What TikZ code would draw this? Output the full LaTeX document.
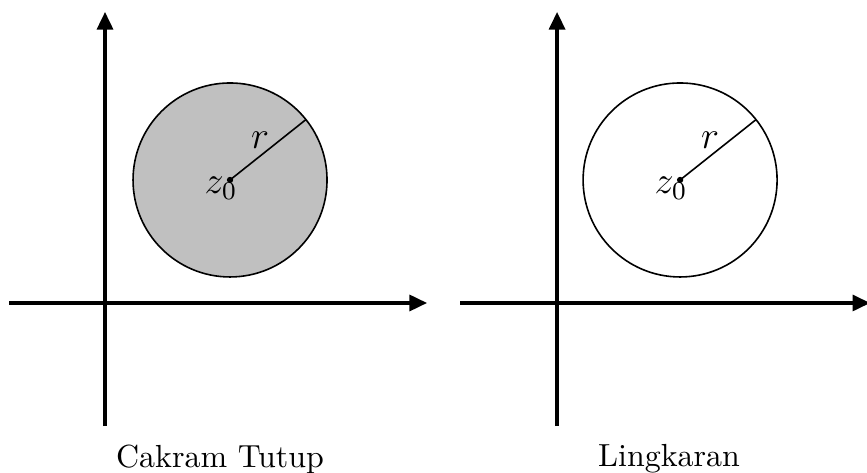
\documentclass[tikz,border=0pt]{standalone}
\usepackage{tikz}
\usetikzlibrary{arrows.meta,positioning,calc}
\definecolor{DiskFill}{HTML}{C0C0C0}

\begin{document}
\begin{tikzpicture}[scale=1.1,
    axis/.style={line width=1pt,-{Triangle[length=5.5pt,width=5pt]}},
    rim/.style={line width=0.5pt},
    lbl/.style={font=\large,inner sep=1pt}]
  \useasboundingbox (0,0) rectangle (8.67,4.72);
  % closed disk
  \coordinate (x1) at (4.27,1.69);
  \coordinate (y1) at (1.05,4.60);
  \coordinate (b1) at (1.05,0.46);
  \coordinate (l1) at (0.09,1.69);
  \draw[axis] (l1) -- (x1);
  \draw[axis] (b1) -- (y1);
  \coordinate (c1) at (2.30,2.92);
  \draw[rim,fill=DiskFill] (c1) circle (0.97);
  \coordinate (p1) at ($(c1)+(38.5:0.97)$);
  \draw[rim] (c1) -- (p1);
  \fill (c1) circle (0.9pt);
  \node[lbl] (r1) at (2.60,3.32) {$r$};
  \node[lbl] (z1) at (2.21,2.84) {$z_0$};
  \node (t1) at (2.20,0.13) {Cakram Tutup};
  % circle
  \coordinate (x2) at (8.70,1.69);
  \coordinate (y2) at (5.57,4.60);
  \coordinate (b2) at (5.57,0.46);
  \coordinate (l2) at (4.60,1.69);
  \draw[axis] (l2) -- (x2);
  \draw[axis] (b2) -- (y2);
  \coordinate (c2) at (6.80,2.92);
  \draw[rim] (c2) circle (0.97);
  \coordinate (p2) at ($(c2)+(38.5:0.97)$);
  \draw[rim] (c2) -- (p2);
  \fill (c2) circle (0.9pt);
  \node[lbl] (r2) at (7.10,3.32) {$r$};
  \node[lbl] (z2) at (6.71,2.84) {$z_0$};
  \node (t2) at (6.69,0.13) {Lingkaran};
\end{tikzpicture}
\end{document}
